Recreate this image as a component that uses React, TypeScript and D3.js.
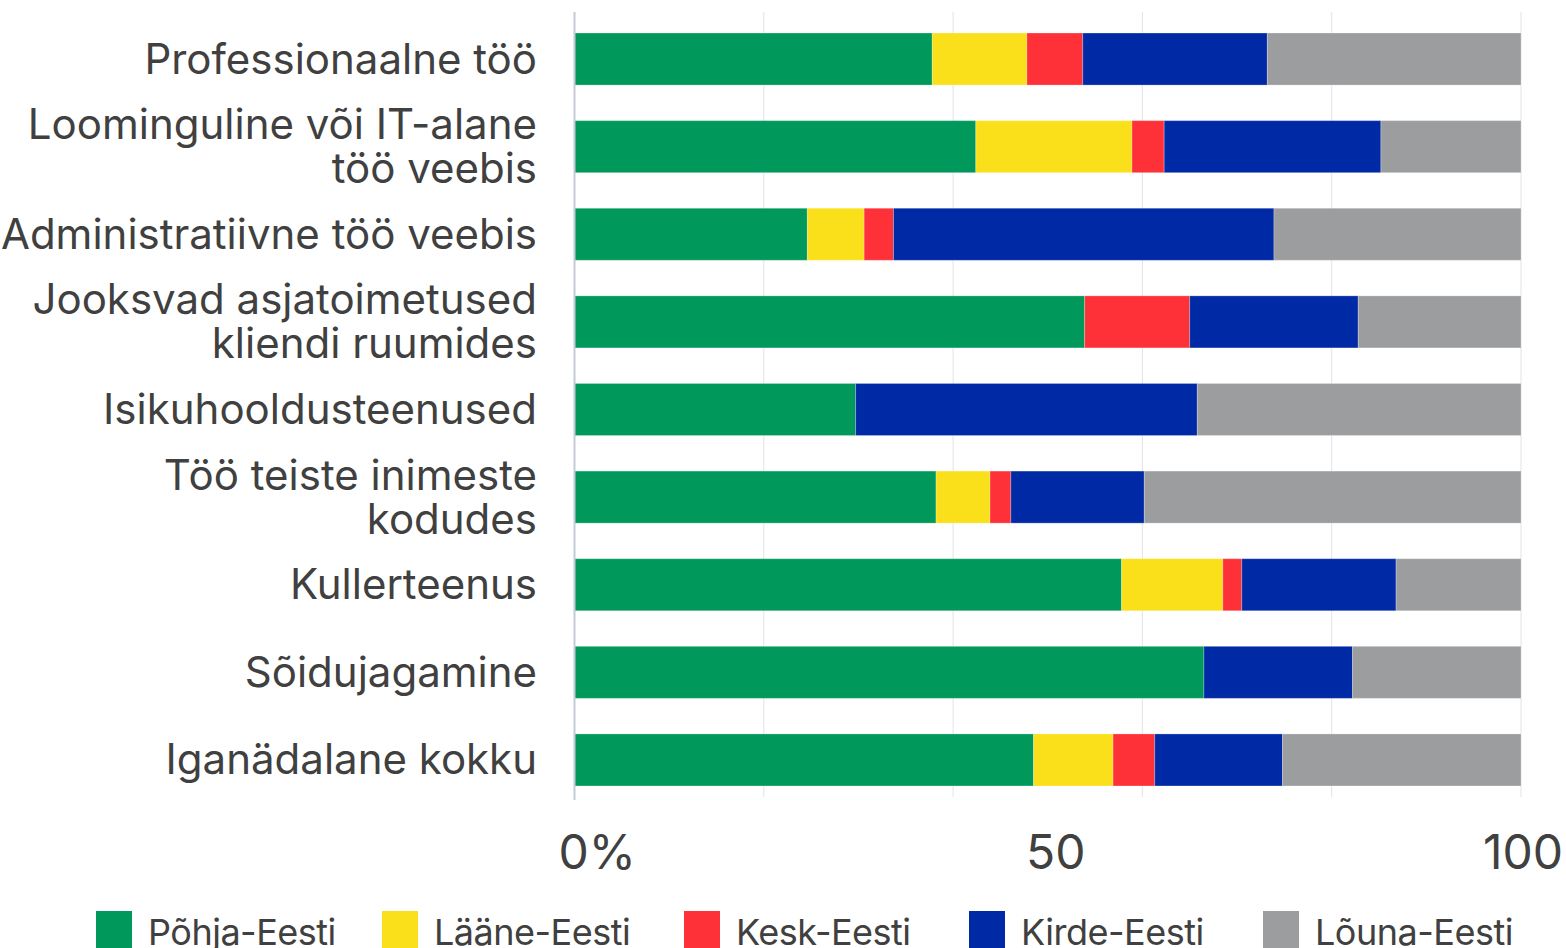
import React from "react";
import * as d3 from "d3";

const categories: string[][] = [
  ["Professionaalne töö"],
  ["Loominguline või IT-alane", "töö veebis"],
  ["Administratiivne töö veebis"],
  ["Jooksvad asjatoimetused", "kliendi ruumides"],
  ["Isikuhooldusteenused"],
  ["Töö teiste inimeste", "kodudes"],
  ["Kullerteenus"],
  ["Sõidujagamine"],
  ["Iganädalane kokku"],
];

const seriesNames = ["Põhja-Eesti", "Lääne-Eesti", "Kesk-Eesti", "Kirde-Eesti", "Lõuna-Eesti"];
const seriesColors = ["#01995B", "#FAE01A", "#FE3038", "#0029A5", "#9C9D9F"];

const pohjaEesti = [37.8, 42.4, 24.6, 53.9, 29.7, 38.2, 57.8, 66.5, 48.5];
const laaneEesti = [10.0, 16.5, 6.0, 0, 0, 5.7, 10.7, 0, 8.4];
const keskEesti = [5.9, 3.4, 3.1, 11.1, 0, 2.2, 2.0, 0, 4.4];
const kirdeEesti = [19.5, 22.9, 40.2, 17.8, 36.1, 14.1, 16.3, 15.7, 13.5];
const lounaEesti = [26.8, 14.8, 26.1, 17.2, 34.2, 39.8, 13.2, 17.8, 25.2];

const gridTicks = [0, 20, 40, 60, 80, 100];
const labelTicks = [
  { v: 0, text: "0%" },
  { v: 50, text: "50" },
  { v: 100, text: "100" },
];

const W = 1566;
const H = 948;

export default function App() {
  const keys = ["p", "l", "k", "ki", "lo"];
  const rows = categories.map((c, i) => ({
    id: String(i),
    p: pohjaEesti[i],
    l: laaneEesti[i],
    k: keskEesti[i],
    ki: kirdeEesti[i],
    lo: lounaEesti[i],
  }));
  const stack = d3.stack<any>().keys(keys)(rows);

  const x = d3.scaleLinear().domain([0, 100]).range([574.5, 1521]);
  const y = d3
    .scaleBand<string>()
    .domain(rows.map((r) => r.id))
    .range([15.5, 803.5])
    .paddingInner(0.406)
    .paddingOuter(0.2);

  const textColor = "#404040";
  const font = "Inter, 'Noto Sans', sans-serif";
  const lineH = 44;
  const legendX = [96, 382, 684, 969, 1263];

  return (
    <svg
      width={W}
      height={H}
      style={{ position: "absolute", left: 0, top: 0, background: "#fff" }}
      fontFamily={font}
    >
      {gridTicks.slice(1).map((t) => (
        <line key={t} x1={x(t)} x2={x(t)} y1={12} y2={797} stroke="#e2e3ea" strokeWidth={1} />
      ))}
      {stack.map((s, si) =>
        s.map((d, i) => {
          const w = x(d[1]) - x(d[0]);
          if (w <= 0) return null;
          return (
            <rect
              key={si + "-" + i}
              x={x(d[0])}
              y={y(String(i))}
              width={w}
              height={y.bandwidth()}
              fill={seriesColors[si]}
              stroke="rgba(255,255,255,0.25)"
              strokeWidth={1}
            />
          );
        })
      )}
      <line x1={x(0)} x2={x(0)} y1={12} y2={800} stroke="#c6c9da" strokeWidth={2} />
      {categories.map((lines, i) => {
        const cy = (y(String(i)) as number) + y.bandwidth() / 2;
        const base = cy + 14.5 - ((lines.length - 1) * lineH) / 2;
        return (
          <text key={i} textAnchor="end" fontSize={42} fill={textColor}>
            {lines.map((ln, j) => (
              <tspan key={j} x={537} y={base + j * lineH}>
                {ln}
              </tspan>
            ))}
          </text>
        );
      })}
      {labelTicks.map((t, i) => {
        const anchor = i === 0 ? "start" : "middle";
        const off = i === 0 ? -16 : i === 1 ? 8 : 2;
        return (
          <text
            key={t.v}
            x={x(t.v) + off}
            y={869}
            textAnchor={anchor}
            fontSize={48}
            fill={textColor}
          >
            {t.text}
          </text>
        );
      })}
      {seriesNames.map((n, i) => (
        <g key={n}>
          <rect x={legendX[i]} y={911} width={36} height={40} fill={seriesColors[i]} />
          <text
            x={legendX[i] + 52}
            y={945}
            fontSize={36}
            letterSpacing={-0.5}
            fill={textColor}
          >
            {n}
          </text>
        </g>
      ))}
    </svg>
  );
}
